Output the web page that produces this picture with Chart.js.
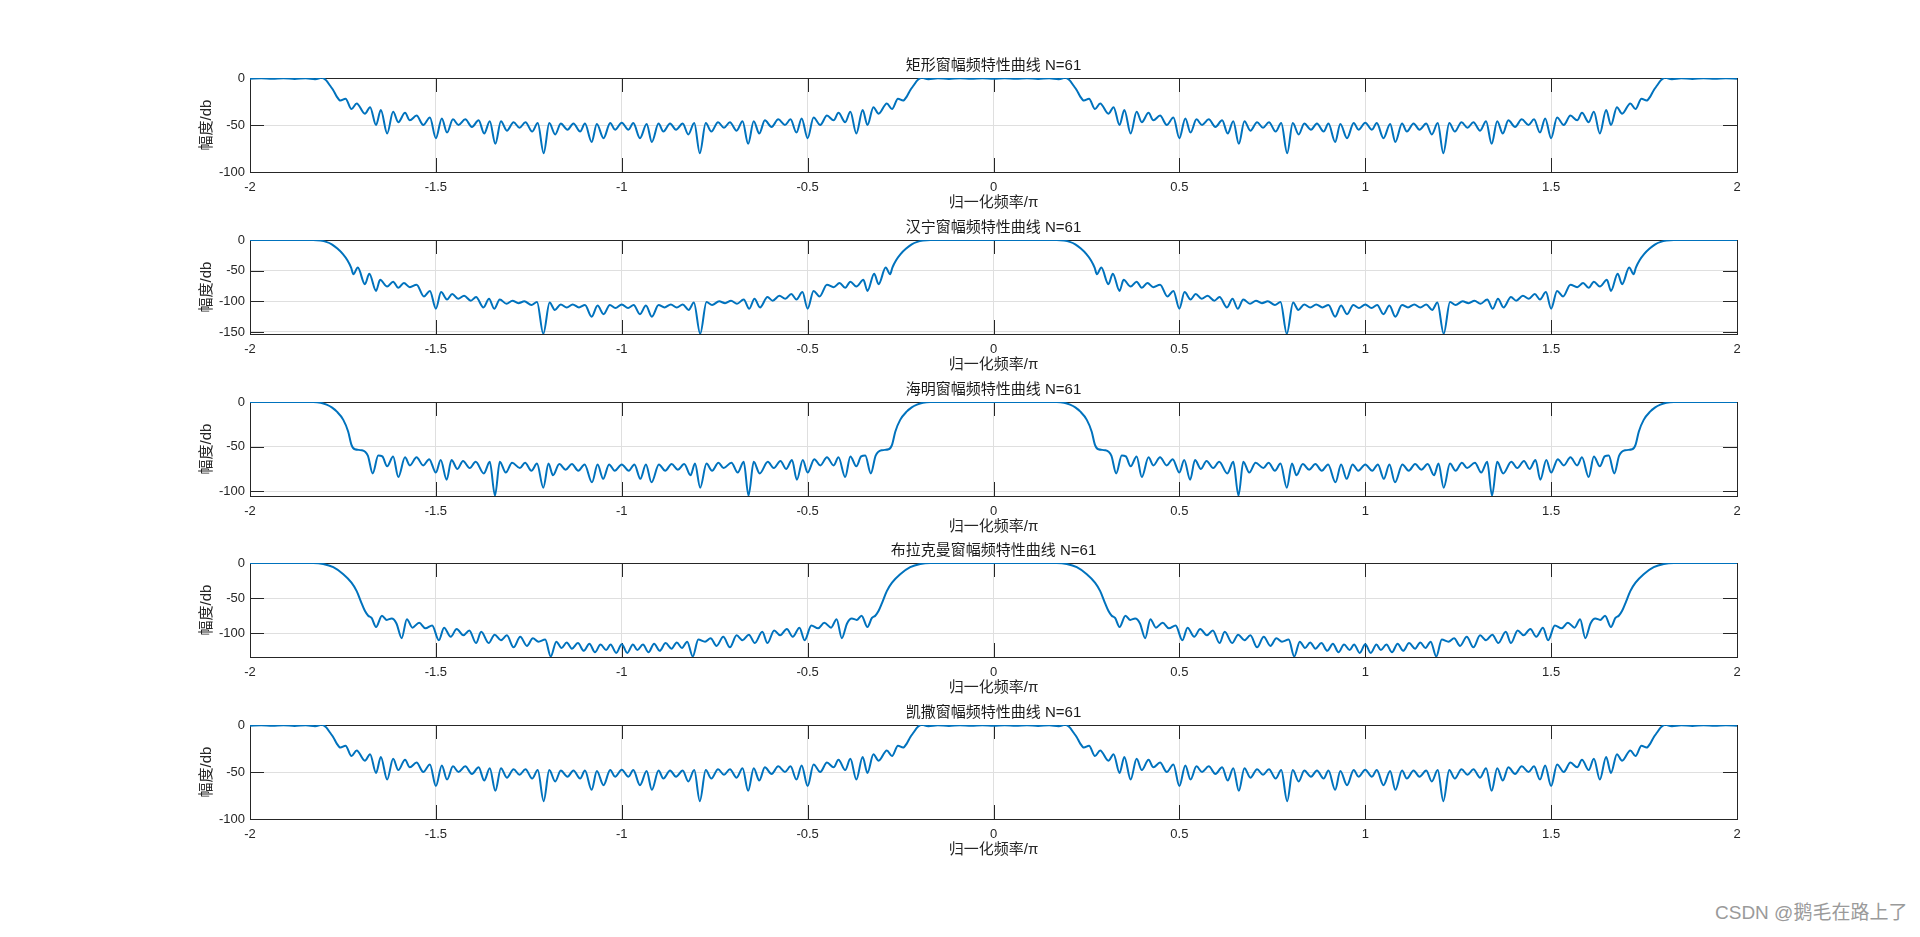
<!DOCTYPE html>
<html><head><meta charset="utf-8">
<script src="https://cdn.jsdelivr.net/npm/chart.js@4.4.1/dist/chart.umd.min.js"></script>
<style>
html,body{margin:0;padding:0;background:#fff;width:1920px;height:937px;overflow:hidden;}
canvas{position:absolute;left:0;}
#wm{position:absolute;left:1715px;top:901px;font:19px "Liberation Sans","Noto Sans CJK SC",sans-serif;color:#9a9a9a;white-space:nowrap;line-height:24px;}
</style></head><body>
<canvas id="c0" width="1920" height="184" style="top:38px"></canvas>
<canvas id="c1" width="1920" height="184" style="top:200px"></canvas>
<canvas id="c2" width="1920" height="184" style="top:362px"></canvas>
<canvas id="c3" width="1920" height="184" style="top:523px"></canvas>
<canvas id="c4" width="1920" height="184" style="top:685px"></canvas>
<div id="wm">CSDN @鹅毛在路上了</div>
<script>
// Values for normalized frequency 0..1 (the plotted curve is even and 2-periodic,
// so the same readings give -2..-1, -1..0, 0..1, 1..2).
const titles = ['矩形窗幅频特性曲线 N=61','汉宁窗幅频特性曲线 N=61','海明窗幅频特性曲线 N=61','布拉克曼窗幅频特性曲线 N=61','凯撒窗幅频特性曲线 N=61'];
const xTicks = [-2,-1.5,-1,-0.5,0,0.5,1,1.5,2];
const yTicks = [[-100,-50,0],[-150,-100,-50,0],[-100,-50,0],[-100,-50,0],[-100,-50,0]];
const yMin = [-100,-153.3,-105.3,-133.8,-100];

const rectT = [0,0.03,0.06,0.09,0.12,0.15,0.175,0.193,0.205,0.215,0.224,0.233,0.243,0.257,0.273,0.287,0.309,0.323,0.339,0.352,0.369,0.385,0.399,0.417,0.430,0.448,0.466,0.484,0.500,0.516,0.530,0.546,0.561,0.579,0.597,0.615,0.630,0.645,0.660,0.675,0.691,0.709,0.725,0.741,0.759,0.774,0.790,0.805,0.821,0.836,0.854,0.870,0.888,0.901,0.919,0.933,0.951,0.969,0.982,1.000];
const rectDb = [-0.8,-0.3,-0.9,-0.3,-1.0,-0.2,-1.2,0.5,-2.5,-8,-13,-19.5,-24,-22,-33,-27,-38,-31,-50,-34,-59,-36,-47,-37,-45,-40,-50,-42,-64,-43,-58,-44,-50,-44,-52,-45,-59,-46,-70,-46,-56,-47,-53,-47,-57,-48,-80,-48,-60,-48.5,-55,-48.5,-57,-48.5,-68,-49,-64,-48,-55,-47.5];

const hannT = [0,0.17,0.19,0.205,0.22,0.235,0.25,0.262,0.272,0.278,0.290,0.309,0.321,0.339,0.350,0.369,0.385,0.399,0.414,0.430,0.448,0.468,0.484,0.500,0.514,0.530,0.544,0.560,0.576,0.594,0.608,0.628,0.643,0.657,0.672,0.690,0.706,0.722,0.738,0.757,0.772,0.789,0.806,0.820,0.836,0.852,0.868,0.885,0.901,0.919,0.935,0.951,0.968,0.983,1.000];
const hannDb = [0,0,-1,-3,-7,-14,-23,-33,-45,-56,-45,-72,-55,-83,-65,-76,-68,-78,-70,-77,-73,-92,-83,-112,-85,-97,-88,-96,-91,-99,-93,-110,-96,-112,-97,-104,-99,-103,-100,-106,-101,-153,-102,-114,-105,-110,-105,-110,-106,-125,-107,-121,-106,-111,-105];

const hammT = [0,0.17,0.19,0.206,0.22,0.233,0.251,0.264,0.273,0.282,0.300,0.317,0.330,0.345,0.356,0.369,0.385,0.399,0.417,0.430,0.448,0.466,0.482,0.500,0.513,0.529,0.542,0.558,0.573,0.591,0.607,0.629,0.645,0.659,0.672,0.688,0.705,0.726,0.740,0.757,0.772,0.789,0.803,0.815,0.832,0.849,0.866,0.883,0.900,0.920,0.935,0.950,0.966,0.981,1.000];
const hammDb = [0,0,-0.8,-3,-6,-10.5,-20,-33,-48,-53,-54,-60,-80,-60,-61,-72,-61,-84,-62,-71,-62,-71,-64,-79,-65,-87,-65,-75,-66,-74,-67,-80,-67,-105,-67,-79,-68,-74,-68,-77,-69,-96,-69,-82,-69.5,-76,-69.5,-77,-70,-90,-70,-86,-70,-77,-70];

const blackT = [0,0.17,0.197,0.224,0.251,0.273,0.287,0.300,0.309,0.318,0.327,0.339,0.355,0.368,0.381,0.394,0.408,0.422,0.437,0.455,0.472,0.490,0.508,0.522,0.540,0.556,0.574,0.590,0.608,0.622,0.642,0.658,0.675,0.691,0.709,0.727,0.745,0.761,0.776,0.794,0.809,0.824,0.838,0.852,0.866,0.882,0.898,0.913,0.928,0.943,0.958,0.970,0.985,1.000];
const blackDb = [0,0,-1.4,-6,-16,-28,-40,-57,-68,-75,-78,-91,-75,-81,-79,-86,-107,-80,-92,-85,-93,-89,-110,-92,-105,-94,-103,-96,-114,-98,-114,-102,-110,-103,-120,-105,-118,-107,-112,-109,-133,-112,-121,-113,-122,-114,-125,-115,-127,-116,-124,-116,-128,-115.7];

const kaiserT = [0,0.03,0.06,0.09,0.12,0.15,0.175,0.193,0.205,0.215,0.224,0.233,0.243,0.257,0.273,0.287,0.309,0.323,0.339,0.352,0.369,0.385,0.399,0.417,0.430,0.448,0.466,0.484,0.500,0.516,0.530,0.546,0.561,0.579,0.597,0.615,0.630,0.645,0.660,0.675,0.691,0.709,0.725,0.741,0.759,0.774,0.790,0.805,0.821,0.836,0.854,0.870,0.888,0.901,0.919,0.933,0.951,0.969,0.982,1.000];
const kaiserDb = [-0.8,-0.3,-0.9,-0.3,-1.0,-0.2,-1.2,0.5,-2.5,-8,-13,-19.5,-24,-22,-33,-27,-38,-31,-51,-34,-58,-36,-48,-37,-45,-40,-50,-42,-65,-43,-58,-44,-50,-44,-52,-45,-59,-46,-70,-46,-56,-47,-53,-47,-57,-48,-81,-48,-60,-48.5,-55,-48.5,-57,-48.5,-69,-49,-64,-48,-55,-47.5];

const Ts = [rectT, hannT, hammT, blackT, kaiserT];
const Ds = [rectDb, hannDb, hammDb, blackDb, kaiserDb];

function unfold(t, v) {
  const pts = [];
  for (let k = 0; k < t.length; k++) pts.push({x: -2 + t[k], y: v[k]});
  for (let k = t.length - 2; k >= 0; k--) pts.push({x: -t[k], y: v[k]});
  for (let k = 1; k < t.length; k++) pts.push({x: t[k], y: v[k]});
  for (let k = t.length - 2; k >= 0; k--) pts.push({x: 2 - t[k], y: v[k]});
  return pts;
}

const FONT = '"Liberation Sans", Arial, "Noto Sans CJK SC", sans-serif';
Chart.defaults.font.family = FONT;

const matlabAxes = {
  id: 'matlabAxes',
  beforeDatasetsDraw(chart) {
    const {ctx, chartArea: a, scales} = chart;
    const L = 14;
    ctx.save();
    ctx.strokeStyle = '#262626';
    ctx.lineWidth = 1;
    ctx.beginPath();
    scales.x.ticks.forEach(t => {
      const p = Math.round(scales.x.getPixelForValue(t.value)) + 0.5;
      ctx.moveTo(p, a.bottom); ctx.lineTo(p, a.bottom - L);
      ctx.moveTo(p, a.top); ctx.lineTo(p, a.top + L);
    });
    scales.y.ticks.forEach(t => {
      const p = Math.round(scales.y.getPixelForValue(t.value)) + 0.5;
      ctx.moveTo(a.left, p); ctx.lineTo(a.left + L, p);
      ctx.moveTo(a.right, p); ctx.lineTo(a.right - L, p);
    });
    ctx.stroke();
    ctx.strokeRect(Math.round(a.left) + 0.5, Math.round(a.top) + 0.5, Math.round(a.right - a.left), Math.round(a.bottom - a.top));
    ctx.restore();
  }
};

for (let i = 0; i < 5; i++) {
  new Chart(document.getElementById('c' + i), {
    type: 'line',
    data: { datasets: [{ data: unfold(Ts[i], Ds[i]), borderColor: '#0072BD', borderWidth: 2, pointRadius: 0, cubicInterpolationMode: 'monotone', fill: false }] },
    options: {
      responsive: false, animation: false, devicePixelRatio: 1,
      layout: { padding: { left: 190, right: 183, top: 0, bottom: 0 } },
      plugins: {
        legend: { display: false }, tooltip: { enabled: false },
        title: { display: true, text: titles[i], fullSize: false, color: '#1a1a1a',
                 font: { size: 15, weight: 'normal', family: FONT }, padding: { top: 19, bottom: 3 } }
      },
      scales: {
        x: {
          type: 'linear', min: -2, max: 2,
          afterBuildTicks: s => { s.ticks = xTicks.map(v => ({ value: v })); },
          afterFit: s => { s.height = 50; },
          ticks: { autoSkip: false, maxRotation: 0, padding: 8, color: '#262626', font: { size: 13 }, callback: v => String(v) },
          grid: { color: '#dfdfdf', drawTicks: false },
          border: { display: false },
          title: { display: true, text: '归一化频率/π', color: '#262626', font: { size: 15 }, padding: { top: 0, bottom: 10 } }
        },
        y: {
          type: 'linear', min: yMin[i], max: 0,
          afterBuildTicks: s => { s.ticks = yTicks[i].map(v => ({ value: v })); },
          afterFit: s => { s.width = 60; },
          ticks: { autoSkip: false, padding: 5, color: '#262626', font: { size: 13 }, callback: v => String(v) },
          grid: { color: '#dfdfdf', drawTicks: false },
          border: { display: false },
          title: { display: true, text: '幅度/db', color: '#262626', font: { size: 15 }, padding: { top: 8, bottom: 0 } }
        }
      }
    },
    plugins: [matlabAxes]
  });
}
</script>
</body></html>
